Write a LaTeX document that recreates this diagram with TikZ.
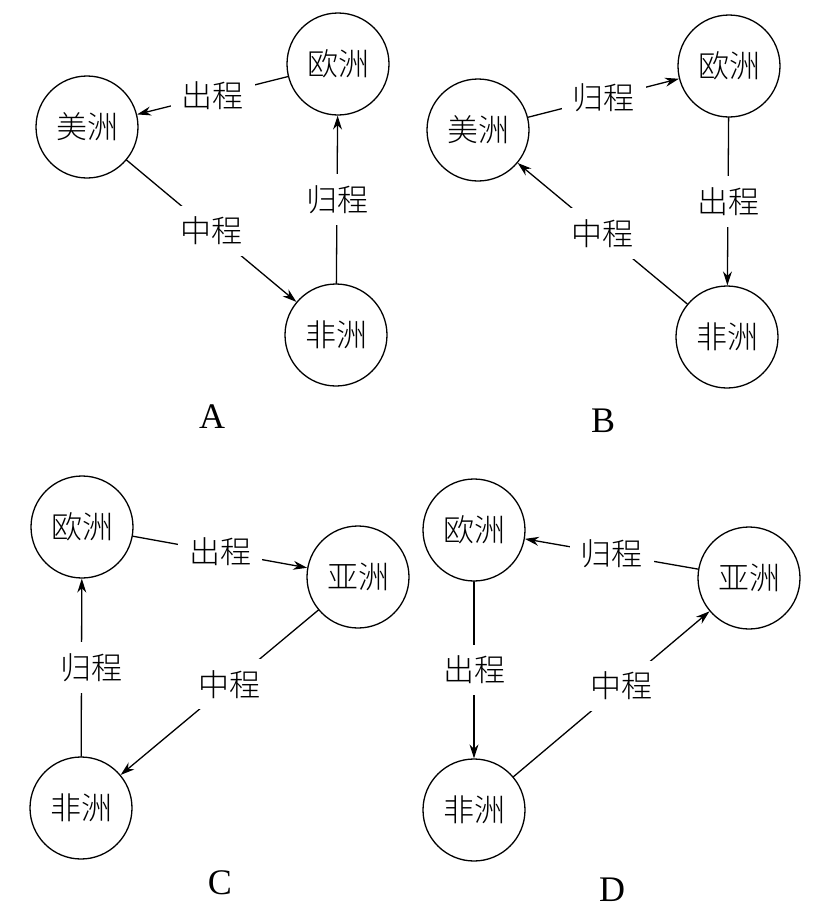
\documentclass[tikz,border=0pt]{standalone}
\usepackage{fontspec}
\setmainfont{Liberation Serif}
\newfontfamily\cjk[UprightFont={* Light}]{Noto Sans CJK SC}
\usetikzlibrary{arrows.meta}
\begin{document}
\begin{tikzpicture}[x=1pt,y=-1pt,line join=round,line cap=round,>={Stealth[length=14pt,width=9pt]},line width=1.3pt]
	\tikzset{zhou/.style={draw,circle,minimum size=102pt,inner sep=0pt,font=\cjk\fontsize{31}{31}\selectfont},
		cheng/.style={fill=white,inner sep=11pt,font=\cjk\fontsize{31}{31}\selectfont},
		hao/.style={font=\fontsize{36}{36}\selectfont}}
	\useasboundingbox (0,0) rectangle (819,921);
	% A
	\node[zhou] (aou) at (338,64) {欧洲};
	\node[zhou] (amei) at (87,127) {美洲};
	\node[zhou] (afei) at (336,335) {非洲};
	\draw[->] (aou) -- node[cheng] (a1) {出程} (amei);
	\draw[->] (amei) -- node[cheng] (a2) {中程} (afei);
	\draw[->] (afei) -- node[cheng] (a3) {归程} (aou);
	\node[hao] (la) at (212,417) {A};
	% B
	\node[zhou] (bou) at (729,66) {欧洲};
	\node[zhou] (bmei) at (478,130) {美洲};
	\node[zhou] (bfei) at (727,337) {非洲};
	\draw[->] (bmei) -- node[cheng] (b1) {归程} (bou);
	\draw[->] (bou) -- node[cheng] (b2) {出程} (bfei);
	\draw[->] (bfei) -- node[cheng] (b3) {中程} (bmei);
	\node[hao] (lb) at (603,421) {B};
	% C
	\node[zhou] (cou) at (82,527) {欧洲};
	\node[zhou] (cya) at (358,577) {亚洲};
	\node[zhou] (cfei) at (81,808) {非洲};
	\draw[->] (cou) -- node[cheng] (c1) {出程} (cya);
	\draw[->] (cya) -- node[cheng,pos=.45] (c2) {中程} (cfei);
	\draw[->] (cfei) -- node[cheng,xshift=10pt] (c3) {归程} (cou);
	\node[hao] (lc) at (220,883) {C};
	% D
	\node[zhou] (dou) at (474,530) {欧洲};
	\node[zhou] (dya) at (749,578) {亚洲};
	\node[zhou] (dfei) at (474,810) {非洲};
	\draw[->] (dya) -- node[cheng] (d1) {归程} (dou);
	\draw[->] (dou) -- node[cheng] (d2) {出程} (dfei);
	\draw[->] (dfei) -- node[cheng,pos=.55] (d3) {中程} (dya);
	\node[hao] (ld) at (612,890) {D};
\end{tikzpicture}
\end{document}
